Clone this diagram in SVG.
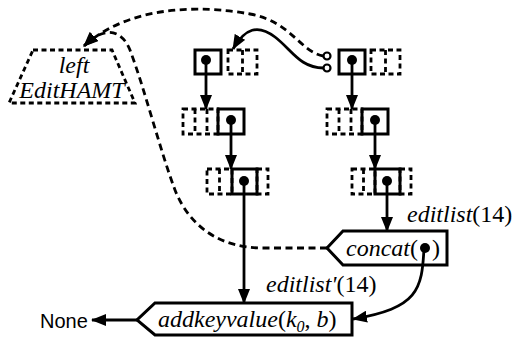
<svg xmlns="http://www.w3.org/2000/svg" width="512" height="337" viewBox="0 0 512 337">
<style>
.s{fill:none;stroke:#000;stroke-width:3}
.d{fill:none;stroke:#000;stroke-width:2.8;stroke-dasharray:5 3.5}
.dot{fill:#000}
.ln{fill:none;stroke:#000;stroke-width:2.8}
.dl{fill:none;stroke:#000;stroke-width:2.8;stroke-dasharray:7 4.5}
.t{font-family:"Liberation Serif","Times New Roman",serif;font-size:24px;fill:#000}
.i{font-style:italic}
.sans{font-family:"Liberation Sans",Arial,sans-serif;font-size:20px;fill:#000}
</style>
<defs>
<marker id="ah" markerWidth="15" markerHeight="12" refX="14" refY="6" orient="auto" markerUnits="userSpaceOnUse"><path d="M0,0 L15,6 L0,12 z" fill="#000"/></marker>
</defs>
<rect width="512" height="337" fill="#fff"/>

<g id="leftEditHAMT">
<polygon class="d" points="33,50 112,50 135,103 9,103"/>
<text class="t i" x="74" y="73" text-anchor="middle">left</text>
<text class="t i" x="72" y="98" text-anchor="middle">EditHAMT</text>
</g>

<g id="L1">
<rect class="d" x="228" y="50" width="29" height="24"/>
<line class="d" x1="242.5" y1="50" x2="242.5" y2="74"/>
<rect class="s" x="195" y="50" width="26" height="24"/>
<circle class="dot" cx="206" cy="60" r="5"/>
</g>
<g id="R1">
<rect class="d" x="371" y="50" width="29" height="24"/>
<line class="d" x1="385.5" y1="50" x2="385.5" y2="74"/>
<rect class="s" x="339" y="50" width="26" height="24"/>
<circle class="dot" cx="352" cy="60" r="5"/>
<circle cx="327" cy="56" r="3.5" fill="#fff" stroke="#000" stroke-width="2.2"/>
<circle cx="327" cy="68" r="3.5" fill="#fff" stroke="#000" stroke-width="2.2"/>
</g>
<g id="L2">
<rect class="d" x="183" y="109" width="35" height="25"/>
<line class="d" x1="195" y1="109" x2="195" y2="134"/>
<line class="d" x1="207" y1="109" x2="207" y2="134"/>
<rect class="s" x="218" y="109" width="26" height="25"/>
<circle class="dot" cx="231" cy="120" r="5"/>
</g>
<g id="R2">
<rect class="d" x="327" y="109" width="35" height="25"/>
<line class="d" x1="339" y1="109" x2="339" y2="134"/>
<line class="d" x1="351" y1="109" x2="351" y2="134"/>
<rect class="s" x="362" y="109" width="26" height="25"/>
<circle class="dot" cx="375" cy="120" r="5"/>
</g>
<g id="L3">
<rect class="d" x="207" y="169" width="25" height="25"/>
<line class="d" x1="219.5" y1="169" x2="219.5" y2="194"/>
<rect class="d" x="257" y="169" width="11" height="25"/>
<rect class="s" x="232" y="169" width="25" height="25"/>
<circle class="dot" cx="244" cy="181" r="5"/>
</g>
<g id="R3">
<rect class="d" x="352" y="169" width="23" height="25"/>
<line class="d" x1="363.5" y1="169" x2="363.5" y2="194"/>
<rect class="d" x="400" y="169" width="11" height="25"/>
<rect class="s" x="375" y="169" width="25" height="25"/>
<circle class="dot" cx="387" cy="181" r="5"/>
</g>

<g id="concat">
<polygon class="s" points="343,231 447,231 447,265 343,265 327,248" fill="#fff"/>
<text class="t" x="346" y="256"><tspan class="i">concat</tspan>(</text>
<text class="t" x="432" y="256">)</text>
<circle class="dot" cx="425" cy="248" r="5"/>
</g>

<g id="addkeyvalue">
<polygon class="s" points="155,303 352,303 352,335 155,335 137,320" fill="#fff"/>
<text class="t" x="158" y="327"><tspan class="i">addkeyvalue</tspan>(<tspan class="i">k</tspan><tspan class="i" font-size="16" dy="5">0</tspan><tspan dy="-5">, </tspan><tspan class="i">b</tspan>)</text>
</g>

<g id="None">
<text class="sans" x="40" y="328">None</text>
</g>

<g id="labels">
<text class="t" x="407" y="222"><tspan class="i">editlist</tspan>(14)</text>
<text class="t" x="266" y="292"><tspan class="i">editlist'</tspan>(14)</text>
</g>

<g id="connectors">
<path class="ln" d="M206,60 V109" marker-end="url(#ah)"/>
<path class="ln" d="M231,120 V169" marker-end="url(#ah)"/>
<path class="ln" d="M244,181 V303" marker-end="url(#ah)"/>
<path class="ln" d="M352,60 V109" marker-end="url(#ah)"/>
<path class="ln" d="M375,120 V169" marker-end="url(#ah)"/>
<path class="ln" d="M387,181 V231" marker-end="url(#ah)"/>
<path class="ln" d="M424,248 C422,290 418,308 353,319" marker-end="url(#ah)"/>
<path class="ln" d="M137,320 H92" marker-end="url(#ah)"/>
<path class="ln" d="M323.5,68 C300,68 292,50 275,37 C258,24 245,28 233,49" marker-end="url(#ah)"/>
<path class="dl" d="M323.5,56 C300,52 292,22 250,14 C200,5 130,5 84,46" marker-end="url(#ah)"/>
<path class="dl" d="M327,248 L262,248 C222,248 190,228 175,190 C160,150 145,90 130,50 C122,30 105,25 84,46" marker-end="url(#ah)"/>
</g>
</svg>
